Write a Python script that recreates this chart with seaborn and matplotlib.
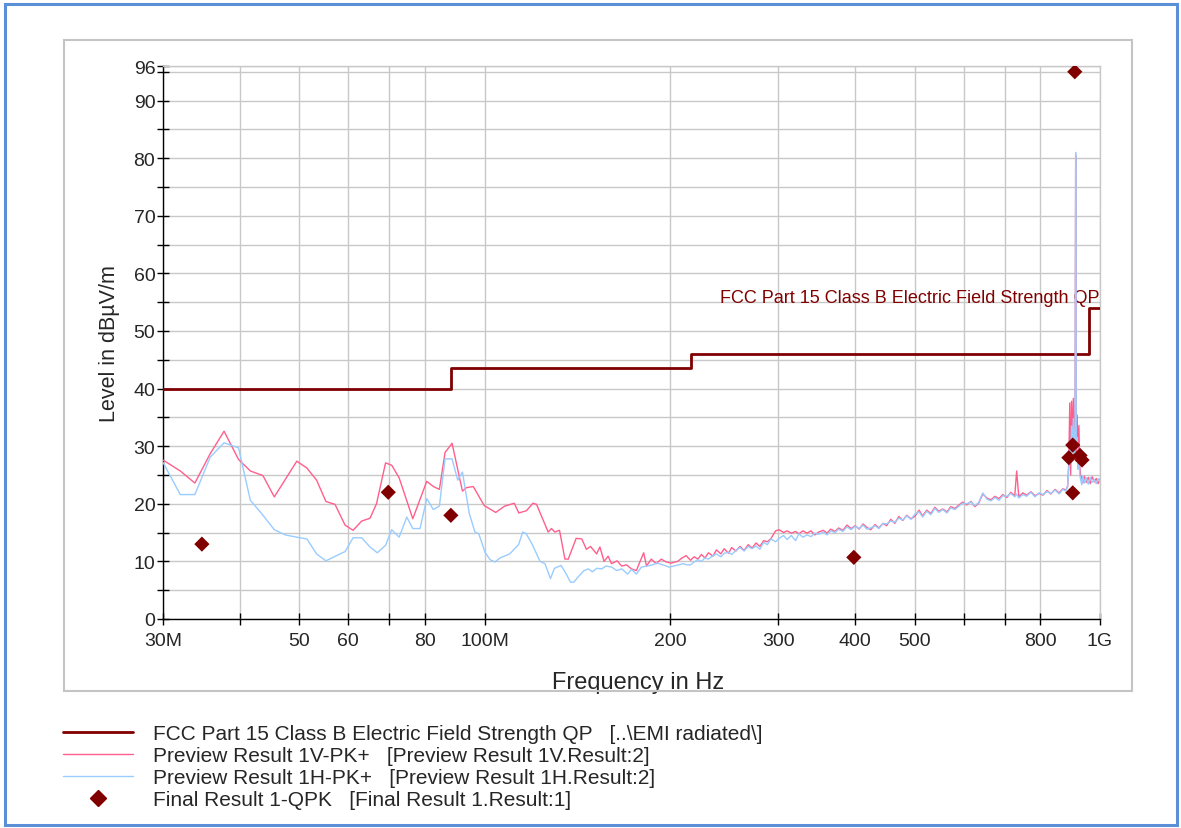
import numpy as np
import pandas as pd
import matplotlib
matplotlib.use("Agg")
import matplotlib.pyplot as plt
import seaborn as sns
from matplotlib.patches import Rectangle
from matplotlib.lines import Line2D
from matplotlib.ticker import FixedLocator, FixedFormatter, NullLocator

sns.set_style("white")
plt.rcParams['font.family'] = ['Liberation Sans', 'DejaVu Sans']

# ---------------- data ----------------
# FCC Part 15 Class B limit (QP), MHz / dBuV/m
limit_f = [30, 88, 216, 960, 1000]
limit_v = [40, 43.5, 46, 54, 54]

# Preview 1V (red) low-frequency part
red_lo_f = [30.0, 32.0, 33.8, 35.8, 37.7, 39.8, 41.6, 43.6, 45.5, 49.5,
            51.4, 53.3, 55.2, 57.1, 59.3, 61.1, 63.1, 65.1, 66.7, 69.0,
            70.6, 72.6, 76.4, 80.5, 82.5, 84.4, 86.2, 88.5, 92.0, 93.4,
            95.8, 99.8, 104.2, 107.8, 111.7, 113.6, 116.9, 119.8, 121.4, 126.8,
            128.4, 130.0, 132.3, 135.0, 136.7, 140.8, 143.8, 146.3, 148.6, 152.0,
            153.9, 156.3, 158.7, 160.7, 164.1, 166.9, 170.0, 173.2, 176.4, 178.7,
            181.3, 183.2, 186.5, 190.0, 193.6, 197.2, 200.9, 205.8, 209.3, 212.5]
red_lo_v = [27.6, 25.7, 23.6, 28.7, 32.6, 27.7, 25.7, 24.9, 21.2, 27.4,
            26.2, 24.1, 20.4, 19.9, 16.3, 15.4, 17.0, 17.5, 20.0, 27.1,
            26.7, 24.5, 17.4, 23.9, 23.0, 22.5, 28.9, 30.5, 22.2, 22.8,
            23.0, 19.7, 18.5, 19.6, 20.1, 18.4, 18.8, 20.1, 19.9, 15.1,
            15.7, 15.1, 15.4, 10.4, 10.4, 14.0, 13.9, 12.1, 12.6, 11.3,
            12.5, 10.0, 10.9, 9.6, 10.1, 9.2, 9.4, 8.7, 8.4, 9.9,
            11.5, 9.2, 10.4, 9.6, 10.4, 9.9, 9.7, 10.0, 10.6, 11.0]

# Preview 1H (blue) low-frequency part
blue_lo_f = [30.0, 32.0, 33.8, 35.8, 37.7, 39.8, 41.6, 43.4, 45.5, 47.4,
             49.5, 51.4, 53.3, 55.2, 58.2, 59.3, 61.1, 63.1, 65.1, 66.9,
             69.0, 70.6, 72.6, 74.7, 76.4, 78.5, 80.5, 82.5, 84.4, 86.2,
             88.5, 90.4, 92.0, 94.4, 96.4, 97.8, 100.1, 102.0, 103.9, 105.9,
             109.8, 113.5, 115.3, 116.8, 119.4, 123.0, 125.3, 127.9, 129.8, 133.1,
             135.7, 137.8, 139.6, 142.1, 145.0, 147.3, 149.6, 152.1, 155.0, 157.4,
             160.9, 163.9, 167.0, 170.7, 173.2, 176.4, 179.7, 183.9, 187.2, 190.6,
             194.9, 199.4, 202.8, 206.3, 209.9, 213.5]
blue_lo_v = [27.2, 21.6, 21.6, 28.1, 30.6, 29.7, 20.6, 18.3, 15.5, 14.6,
             14.2, 13.9, 11.3, 10.1, 11.3, 11.7, 14.1, 14.1, 12.5, 11.5,
             12.8, 15.5, 14.2, 17.7, 15.7, 15.7, 20.9, 19.0, 19.6, 27.8,
             27.8, 24.1, 25.5, 18.3, 15.1, 14.8, 11.6, 10.3, 9.9, 10.6,
             11.3, 12.9, 15.1, 14.8, 13.0, 10.0, 9.6, 7.0, 8.8, 9.3,
             7.8, 6.4, 6.4, 7.4, 8.4, 8.7, 8.2, 8.8, 8.7, 9.2,
             9.0, 8.4, 8.7, 7.8, 8.6, 7.8, 9.0, 9.2, 9.4, 9.7,
             9.4, 9.0, 9.2, 9.4, 9.6, 9.4]

# high-frequency sweep points (shared by both previews)
hi_f = [216, 219, 222, 225, 228, 231, 235, 238, 242, 245,
        249, 252, 256, 260, 264, 268, 272, 276, 280, 284,
        288, 292, 297, 301, 306, 310, 315, 320, 324, 329,
        334, 339, 344, 349, 355, 360, 365, 371, 376, 382,
        388, 394, 400, 406, 412, 418, 424, 431, 437, 444,
        450, 457, 464, 471, 478, 485, 493, 500, 508, 515,
        523, 531, 539, 547, 555, 564, 572, 581, 590, 598,
        607, 617, 626, 635, 645, 655, 665, 675, 685, 695,
        706, 716, 727, 732, 738, 749, 760, 772, 784, 796,
        808, 820, 832, 845, 858, 870, 880, 886, 890, 893,
        896, 899, 902, 905, 908, 911, 913, 915, 918, 921,
        924, 927, 930, 934, 938, 943, 950, 957, 964, 971,
        979, 986, 993, 1000]
red_hi_v = [10.2, 10.8, 10.4, 11.2, 10.6, 11.5, 10.9, 12.0, 11.3, 12.2,
            11.4, 12.4, 11.8, 12.6, 11.9, 12.9, 12.3, 13.2, 12.6, 13.6,
            13.4, 14.0, 15.3, 15.5, 15.0, 15.3, 14.9, 15.2, 14.8, 15.3,
            14.9, 15.3, 14.6, 15.1, 15.4, 14.9, 15.6, 15.2, 15.8, 15.4,
            16.3, 15.7, 16.2, 15.6, 16.5, 15.9, 15.5, 16.4, 15.8, 16.6,
            16.2, 17.3, 16.6, 17.8, 17.1, 18.0, 17.4, 17.8, 18.9, 17.9,
            18.9, 18.3, 19.4, 18.7, 19.1, 18.6, 19.5, 19.2, 19.8, 20.3,
            19.8, 20.4, 19.5, 20.1, 21.7, 21.0, 20.7, 21.3, 20.9, 21.6,
            21.1, 22.0, 21.4, 25.7, 21.2, 21.9, 21.5, 22.1, 21.4, 21.8,
            21.5, 22.3, 21.7, 22.5, 21.9, 22.6, 22.4, 23.0, 27.5, 37.5,
            25.0, 37.8, 30.0, 38.3, 28.5, 34.0, 80.5, 29.0, 35.4, 27.0,
            33.6, 26.5, 25.0, 24.5, 23.6, 24.8, 23.7, 24.6, 23.5, 24.7,
            23.8, 24.4, 23.5, 24.3]
blue_hi_v = [9.4, 9.9, 10.3, 10.0, 10.6, 10.4, 11.0, 11.3, 10.8, 11.4,
             11.6, 11.2, 11.9, 12.4, 11.8, 12.6, 12.2, 12.7, 12.1, 13.3,
             12.9, 13.9, 13.4, 14.0, 14.5, 13.8, 14.5, 13.6, 14.8, 14.2,
             14.6, 14.3, 14.9, 14.7, 15.1, 14.6, 15.3, 15.0, 15.6, 15.2,
             16.0, 15.5, 16.1, 15.7, 16.3, 15.6, 15.8, 16.2, 15.7, 16.6,
             16.5, 17.0, 16.8, 17.5, 17.2, 17.9, 17.3, 18.2, 18.6, 17.7,
             18.7, 18.1, 19.2, 18.5, 19.0, 18.4, 19.3, 19.0, 19.6, 20.1,
             20.0, 20.3, 19.7, 20.2, 21.9, 20.8, 20.5, 21.1, 20.6, 21.4,
             21.3, 21.8, 21.2, 21.7, 21.0, 21.6, 21.3, 22.0, 21.2, 21.9,
             21.6, 22.1, 21.8, 22.4, 21.7, 22.5, 22.2, 23.2, 26.5, 30.0,
             27.0, 33.5, 29.0, 34.8, 28.0, 33.0, 81.0, 30.0, 31.5, 26.0,
             28.5, 25.0, 24.2, 23.3, 24.9, 23.6, 24.5, 23.4, 24.6, 23.7,
             24.2, 23.5, 24.4, 23.9]

# Final QPK results
qpk_f = [34.7, 69.7, 88.1, 398.0, 890.0, 903.0, 903.0, 910.0, 928.0, 935.0]
qpk_v = [13.0, 22.0, 18.0, 10.7, 28.0, 30.2, 21.9, 95.0, 28.4, 27.6]

x_ticks = [30, 40, 50, 60, 70, 80, 100, 200, 300, 400, 500, 600, 700, 800, 1000]
x_labels = ["30M", "", "50", "60", "", "80", "100M", "200", "300", "400", "500", "", "", "800", "1G"]
y_ticks = [0, 5, 10, 15, 20, 25, 30, 35, 40, 45, 50, 55, 60, 65, 70, 75, 80, 85, 90, 95, 96]
y_labels = ["0", "", "10", "", "20", "", "30", "", "40", "", "50", "", "60", "", "70", "",
            "80", "", "90", "", "96"]

labels = [r"FCC Part 15 Class B Electric Field Strength QP   [..\EMI radiated\]",
          "Preview Result 1V-PK+   [Preview Result 1V.Result:2]",
          "Preview Result 1H-PK+   [Preview Result 1H.Result:2]",
          "Final Result 1-QPK   [Final Result 1.Result:1]"]

# ---------------- styling ----------------
C_LIM = "#800000"
C_RED = "#ff5f8c"
C_BLUE = "#99ccff"
C_GRID = "#c8c8c8"

W, H = 1181, 829
fig = plt.figure(figsize=(W / 100, H / 100), dpi=100)

# outer blue frame and gray panel
fig.patches.append(Rectangle((5 / W, 3 / H), 1172 / W, 821 / H, transform=fig.transFigure,
                             fill=False, edgecolor="#5b8fd8", lw=2.2))
fig.patches.append(Rectangle((64 / W, (H - 692) / H), (1132 - 64) / W, (692 - 41) / H,
                             transform=fig.transFigure, fill=False, edgecolor="#c4c4c4", lw=1.5))

ax = fig.add_axes([163 / W, (H - 620) / H, (1100 - 163) / W, (620 - 67) / H])
ax.set_xscale("log")

red_df = pd.DataFrame({"f": red_lo_f + hi_f, "v": red_lo_v + red_hi_v})
blue_df = pd.DataFrame({"f": blue_lo_f + hi_f, "v": blue_lo_v + blue_hi_v})
lim_df = pd.DataFrame({"f": limit_f, "v": limit_v})
qpk_df = pd.DataFrame({"f": qpk_f, "v": qpk_v})

sns.lineplot(data=lim_df, x="f", y="v", ax=ax, color=C_LIM, lw=2.0,
             drawstyle="steps-post", estimator=None, sort=False, zorder=3)
sns.lineplot(data=red_df, x="f", y="v", ax=ax, color=C_RED, lw=1.0,
             estimator=None, sort=False, zorder=4)
sns.lineplot(data=blue_df, x="f", y="v", ax=ax, color=C_BLUE, lw=1.0,
             estimator=None, sort=False, zorder=5)
sns.scatterplot(data=qpk_df, x="f", y="v", ax=ax, color=C_LIM, marker="D", s=60,
                edgecolor="none", zorder=6)

ax.text(1000, 55.0, "FCC Part 15 Class B Electric Field Strength QP", color=C_LIM,
        fontsize=13, ha="right", va="baseline")

ax.set_xlim(30, 1000)
ax.set_ylim(0, 96)
ax.xaxis.set_major_locator(FixedLocator(x_ticks))
ax.xaxis.set_major_formatter(FixedFormatter(x_labels))
ax.xaxis.set_minor_locator(NullLocator())
ax.yaxis.set_major_locator(FixedLocator(y_ticks))
ax.yaxis.set_major_formatter(FixedFormatter(y_labels))

ax.grid(True, color=C_GRID, lw=1.0)
ax.set_axisbelow(True)
ax.tick_params(axis="both", which="major", direction="inout", length=9, width=1,
               color="black", labelsize=14, bottom=True, left=True)
ax.tick_params(axis="x", pad=5)
ax.tick_params(axis="y", pad=1)
for s in ["left", "bottom"]:
    ax.spines[s].set_color("black")
    ax.spines[s].set_linewidth(1.0)
for s in ["top", "right"]:
    ax.spines[s].set_color(C_GRID)
    ax.spines[s].set_linewidth(1.0)

ax.set_xlabel("Frequency in Hz", fontsize=17)
ax.xaxis.set_label_coords(0.507, -0.094)
ax.set_ylabel("Level in dB\u00b5V/m", fontsize=15.5, labelpad=10)

handles = [Line2D([], [], color=C_LIM, lw=2.0),
           Line2D([], [], color=C_RED, lw=1.0),
           Line2D([], [], color=C_BLUE, lw=1.0),
           Line2D([], [], color=C_LIM, marker="D", ls="none", markersize=8)]
fig.legend(handles, labels, loc="upper left", bbox_to_anchor=(63 / W, 1 - 725 / H),
           frameon=False, fontsize=15, handlelength=3.35, handletextpad=0.95,
           labelspacing=0.15, borderpad=0, borderaxespad=0)

fig.savefig("out.png", dpi=100)
